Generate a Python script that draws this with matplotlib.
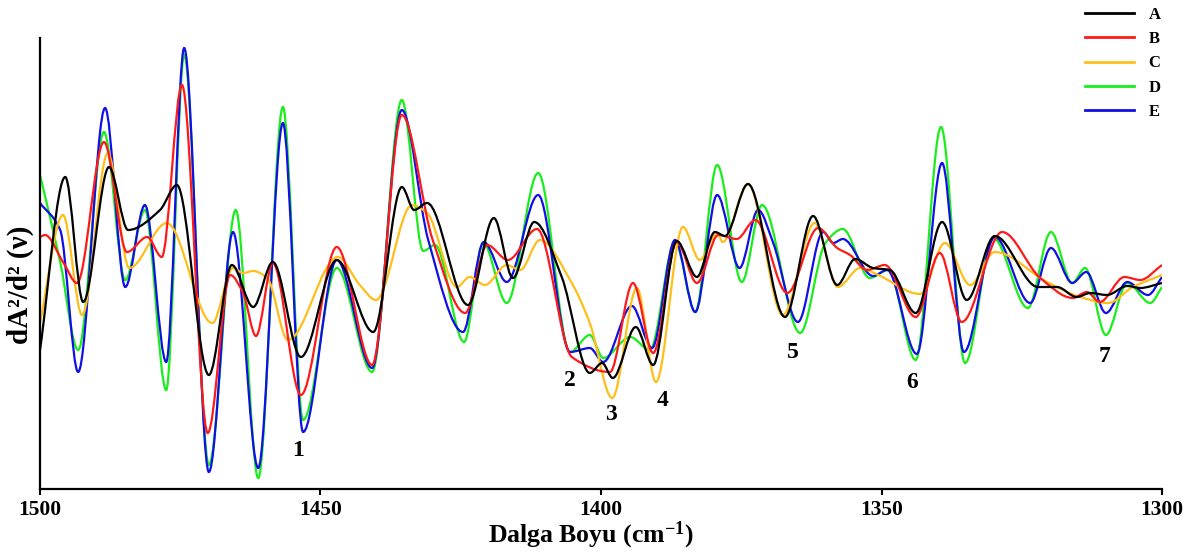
import numpy as np
import matplotlib
matplotlib.use("Agg")
import matplotlib.pyplot as plt
from matplotlib.path import Path
from matplotlib.patches import PathPatch
from matplotlib.lines import Line2D

# ---- data (wavenumber, second derivative in arbitrary units) ----
a_x = [1500, 1495.5, 1492.3, 1487.7, 1484.3, 1478.6, 1475.6, 1469.9, 1465.8, 1462.0, 1458.5,
       1453.5, 1447.1, 1440.6, 1435.5, 1433.3, 1431.0, 1423.7, 1419.1, 1415.7, 1411.9, 1407.0,
       1402.0, 1399.8, 1397.9, 1393.8, 1390.7, 1386.5, 1382.9, 1379.7, 1377.9, 1373.8, 1367.2,
       1362.2, 1357.9, 1354.7, 1351.5, 1348.5, 1343.9, 1339.2, 1334.8, 1329.8, 1322.1, 1318.7,
       1315.2, 1312.8, 1309.8, 1306.2, 1303.9, 1300]
a_y = [139, 312, 187, 322, 259, 279, 304, 114, 224, 182, 227,
       132, 229, 157, 302, 279, 286, 184, 271, 211, 267, 212,
       116, 126, 111, 162, 124, 248, 212, 257, 253, 305, 172,
       273, 204, 230, 221, 219, 176, 267, 189, 253, 202, 202,
       192, 196, 194, 203, 201, 206]

b_x = [1500, 1499.1, 1495.9, 1493.4, 1488.6, 1484.5, 1480.9, 1478.3, 1474.7, 1470.1, 1466.1,
       1463.8, 1461.5, 1458.5, 1453.5, 1447.1, 1440.8, 1435.5, 1430.0, 1424.2, 1420.3, 1416.6,
       1411.4, 1405.2, 1398.4, 1394.3, 1390.7, 1386.5, 1382.9, 1379.1, 1375.8, 1372.5, 1366.8,
       1361.3, 1357.9, 1355.6, 1352.6, 1349.4, 1343.9, 1339.6, 1335.7, 1328.5, 1321.7, 1315.9,
       1313.4, 1311.1, 1306.7, 1303.9, 1300]
b_y = [252, 254, 227, 206, 347, 237, 252, 232, 404, 56, 214,
       196, 153, 226, 94, 242, 124, 374, 249, 176, 244, 229,
       260, 132, 117, 206, 136, 247, 206, 254, 250, 269, 196,
       261, 241, 234, 219, 224, 172, 236, 167, 257, 211, 191,
       197, 187, 212, 209, 224]

c_x = [1500, 1495.9, 1492.5, 1487.9, 1484.1, 1477.4, 1469.3, 1465.6, 1463.8, 1462.0, 1459.5,
       1455.8, 1446.9, 1443.0, 1440.1, 1433.7, 1431.0, 1425.7, 1423.4, 1420.7, 1416.8, 1414.4,
       1410.9, 1405.5, 1402.0, 1398.0, 1393.6, 1390.2, 1385.4, 1382.4, 1379.3, 1378.3, 1373.8,
       1367.6, 1361.9, 1357.8, 1353.8, 1350.6, 1343.1, 1338.7, 1334.2, 1329.8, 1320.5, 1314.6,
       1309.6, 1305.2, 1300]
c_y = [166, 274, 174, 336, 221, 266, 166, 221, 216, 218, 211,
       149, 232, 204, 189, 284, 276, 202, 212, 204, 224, 219,
       249, 209, 166, 91, 201, 107, 262, 229, 256, 247, 305,
       174, 266, 202, 221, 214, 195, 246, 204, 237, 207, 192,
       186, 202, 214]

d_x = [1500, 1496.4, 1493.2, 1488.6, 1484.8, 1481.3, 1477.5, 1474.3, 1469.9, 1465.1, 1461.1,
       1456.7, 1453.1, 1447.1, 1440.8, 1435.5, 1431.7, 1429.6, 1424.4, 1421.0, 1416.8, 1411.2,
       1405.5, 1402.0, 1399.6, 1394.8, 1391.3, 1386.8, 1383.2, 1379.3, 1374.9, 1371.3, 1364.5,
       1360.0, 1356.9, 1352.1, 1348.8, 1343.9, 1339.4, 1335.1, 1330.1, 1323.9, 1319.8, 1316.0,
       1313.7, 1310.0, 1306.2, 1302.1, 1300]
d_y = [314, 227, 139, 357, 209, 279, 99, 434, 24, 279, 11,
       382, 69, 221, 117, 389, 238, 244, 147, 246, 186, 316,
       137, 154, 131, 152, 139, 247, 177, 324, 207, 284, 156,
       246, 260, 211, 219, 129, 362, 126, 251, 181, 257, 206,
       221, 154, 206, 186, 202]

e_x = [1500, 1496.4, 1493.2, 1488.4, 1484.8, 1481.3, 1477.5, 1474.3, 1469.9, 1465.6, 1461.1,
       1456.7, 1453.1, 1447.1, 1440.8, 1435.5, 1430.8, 1424.6, 1420.9, 1416.8, 1411.2, 1405.5,
       1402.0, 1399.6, 1394.5, 1390.9, 1386.8, 1383.2, 1379.3, 1375.3, 1372.0, 1369.3, 1364.9,
       1360.4, 1358.6, 1356.9, 1351.5, 1349.0, 1343.7, 1339.2, 1335.3, 1329.8, 1323.5, 1319.8,
       1316.0, 1313.5, 1310.0, 1306.2, 1302.5, 1300]
e_y = [286, 259, 117, 381, 202, 284, 127, 441, 17, 257, 21,
       366, 57, 229, 121, 379, 249, 157, 247, 207, 294, 137,
       141, 127, 183, 141, 249, 177, 294, 221, 279, 246, 167,
       257, 246, 250, 213, 219, 135, 326, 137, 252, 186, 241,
       206, 217, 176, 207, 194, 212]

labels = ["A", "B", "C", "D", "E"]
colors = ["#000000", "#ff1a1a", "#ffbf1a", "#1aee1a", "#1010e6"]

peak_labels = ["1", "2", "3", "4", "5", "6", "7"]
peak_x = [1454.0, 1405.5, 1398.2, 1389.1, 1365.8, 1344.6, 1310.3]
peak_y = [39, 108, 75, 88, 137, 107, 133]

plt.rcParams["font.family"] = ["Liberation Serif", "DejaVu Serif"]
plt.rcParams["font.weight"] = "bold"
plt.rcParams["axes.labelweight"] = "bold"
plt.rcParams["mathtext.fontset"] = "custom"
plt.rcParams["mathtext.rm"] = "Liberation Serif:bold"
plt.rcParams["mathtext.it"] = "Liberation Serif:italic:bold"
plt.rcParams["mathtext.bf"] = "Liberation Serif:bold"


def smooth_path(x, y):
    # cubic hermite (monotone slopes) written as bezier segments
    x = np.asarray(x, float)
    y = np.asarray(y, float)
    h = np.diff(x)
    delta = np.diff(y) / h
    d = np.zeros_like(y)
    d[0] = delta[0]
    d[-1] = delta[-1]
    for k in range(1, len(x) - 1):
        if delta[k - 1] * delta[k] <= 0:
            d[k] = 0.0
        else:
            w1 = 2 * h[k] + h[k - 1]
            w2 = h[k] + 2 * h[k - 1]
            d[k] = (w1 + w2) / (w1 / delta[k - 1] + w2 / delta[k])
    verts = [(x[0], y[0])]
    codes = [Path.MOVETO]
    for i in range(len(x) - 1):
        verts.append((x[i] + h[i] / 3, y[i] + d[i] * h[i] / 3))
        verts.append((x[i + 1] - h[i] / 3, y[i + 1] - d[i + 1] * h[i] / 3))
        verts.append((x[i + 1], y[i + 1]))
        codes += [Path.CURVE4] * 3
    return Path(verts, codes)


fig = plt.figure(figsize=(12.01, 5.54), dpi=100)
ax = fig.add_axes([40 / 1201, 65 / 554, 1122 / 1201, 451 / 554])

series = [(a_x, a_y), (b_x, b_y), (c_x, c_y), (d_x, d_y), (e_x, e_y)]
order = [3, 4, 2, 1, 0]
for i in order:
    sx, sy = series[i]
    ax.add_patch(PathPatch(smooth_path(sx, sy), fill=False, edgecolor=colors[i], lw=1.6))

ax.set_xlim(1500, 1300)
ax.set_ylim(0, 451)
ax.set_xticks([1500, 1450, 1400, 1350, 1300])
ax.set_yticks([])
ax.spines["top"].set_visible(False)
ax.spines["right"].set_visible(False)
ax.spines["left"].set_linewidth(1.6)
ax.spines["bottom"].set_linewidth(1.6)
ax.tick_params(axis="x", direction="out", length=4, width=1.5, pad=4, labelsize=15.5)

ax.set_xlabel("Dalga Boyu (cm$^{-1}$)", fontsize=18.5)
ax.xaxis.set_label_coords(0.491, -0.068)
ax.set_ylabel("dA\u00b2/d\u00b2 (\u03bd)", fontsize=21)
ax.yaxis.set_label_coords(-0.005, 0.452)

for lab, px, py in zip(peak_labels, peak_x, peak_y):
    ax.text(px, py, lab, ha="center", va="center", fontsize=17)

handles = [Line2D([], [], color=c, lw=2) for c in colors]
fig.legend(handles, labels, loc="upper right", bbox_to_anchor=(1169 / 1201, 1.003),
           frameon=False, borderpad=0, handlelength=2.9, handletextpad=0.9,
           labelspacing=0.5, prop={"weight": "bold", "size": 12})

fig.savefig("out.png", dpi=100)
